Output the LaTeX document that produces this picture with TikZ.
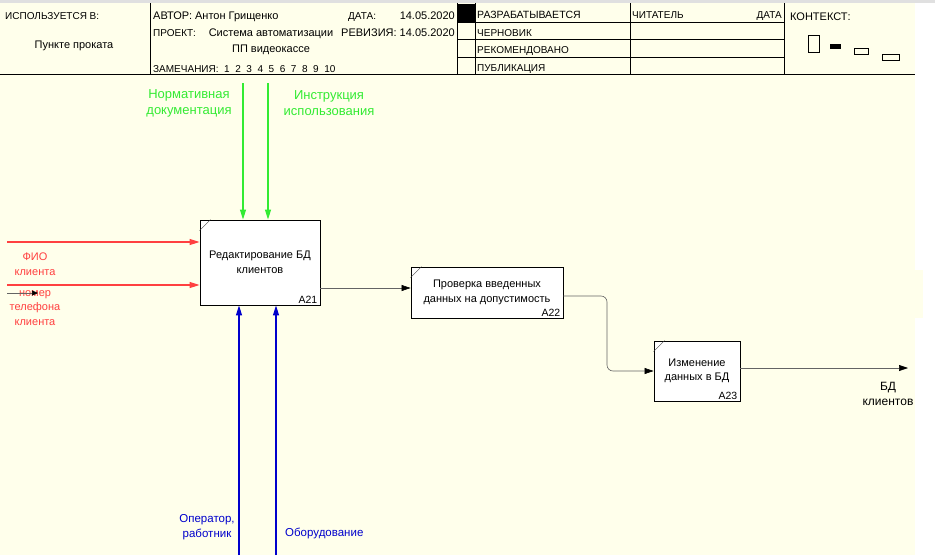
\documentclass[tikz,border=0pt]{standalone}
\usepackage{fontspec}
\setmainfont{Liberation Sans}
\usetikzlibrary{arrows.meta,calc}
\definecolor{paper}{RGB}{255,255,235}
\definecolor{inred}{RGB}{255,64,64}
\definecolor{ctlgreen}{RGB}{51,235,51}
\definecolor{mechblue}{RGB}{0,0,204}
\definecolor{flowgray}{RGB}{100,100,100}
\newcommand{\boxtick}[1]{\draw[black!75] (#1.north west) ++(0,11) -- ++(11,-11);}

\begin{document}
\begin{tikzpicture}[x=1pt, y=-1pt,
  every node/.style={inner sep=0pt, font=\fontsize{11}{14.5}\selectfont},
  hdr/.style={anchor=base west, font=\fontsize{10}{12}\selectfont},
  hdrl/.style={hdr, font=\fontsize{11}{12}\selectfont},
  func/.style={draw, fill=white, line width=0.9pt, align=center},
  num/.style={anchor=south east, font=\fontsize{10.5}{12}\selectfont},
  inp/.style={draw=inred, line width=1.3pt, -{Triangle[length=10pt,width=6pt]}},
  ctl/.style={draw=ctlgreen, line width=1.3pt, -{Triangle[length=10pt,width=6pt]}},
  mech/.style={draw=mechblue, line width=1.3pt, -{Triangle[length=10pt,width=6pt]}},
  flow/.style={draw=flowgray, line width=0.6pt, -{Triangle[length=9pt,width=6pt,color=black]}}]
\useasboundingbox (0,0) rectangle (935,555);
% Page
\fill[black!12] (0,0) rectangle (935,2.5);
\fill[paper] (0,2.5) rectangle (915,555);
\fill[paper] (915,270) rectangle (923,318);

% Header frame
\draw[line width=0.8pt] (0,74) -- (915,74);
\draw[line width=0.8pt] (150,3) -- (150,74);
\draw[line width=0.8pt] (457,3) -- (457,74);
\draw[line width=0.8pt] (475,3) -- (475,74);
\draw[line width=0.8pt] (630,3) -- (630,74);
\draw[line width=0.8pt] (784,3) -- (784,74);
\foreach \y in {22,39,57}
  \draw[line width=0.8pt] (457,\y) -- (784,\y);
\fill (457,4) rectangle (475,22);

% Header texts
\node[hdr] (used) at (5,19) {ИСПОЛЬЗУЕТСЯ В:};
\node[hdrl, anchor=base] (usedin) at (74,48) {Пункте проката};
\node[hdrl] (author) at (153,19) {АВТОР: Антон Грищенко};
\node[hdr] (date) at (348,19) {ДАТА:};
\node[hdrl, anchor=base east] (dateval) at (455,19) {14.05.2020};
\node[hdr] (project) at (153,36) {ПРОЕКТ:};
\node[hdrl, anchor=base] (proj1) at (271,36) {Система автоматизации};
\node[hdrl, anchor=base] (proj2) at (271,52) {ПП видеокассе};
\node[hdrl, anchor=base east] (rev) at (455,36) {РЕВИЗИЯ: 14.05.2020};
\node[hdr] (notes) at (153,72) {ЗАМЕЧАНИЯ:~~1~~2~~3~~4~~5~~6~~7~~8~~9~~10};
\node[hdr, font=\fontsize{10.5}{12}\selectfont] (st1) at (477,18) {РАЗРАБАТЫВАЕТСЯ};
\node[hdr] (st2) at (477,36) {ЧЕРНОВИК};
\node[hdr] (st3) at (477,53) {РЕКОМЕНДОВАНО};
\node[hdr] (st4) at (477,71) {ПУБЛИКАЦИЯ};
\node[hdr] (reader) at (632,18) {ЧИТАТЕЛЬ};
\node[hdr, anchor=base east] (rdate) at (782,18) {ДАТА};
\node[hdr, font=\fontsize{11}{12}\selectfont] (ctx) at (790,20) {КОНТЕКСТ:};

% Context icons
\draw (808.5,35) rectangle (819,52);
\fill (830,43.5) rectangle (840.5,49);
\draw (854.5,48.5) rectangle (868,54);
\draw (882.5,54.5) rectangle (899,60);

% Activity boxes
\node[func, minimum width=120pt, minimum height=85pt] (A21) at (260,262.5) {Редактирование БД\\клиентов};
\node[func, minimum width=152pt, minimum height=51pt] (A22) at (487,292.5) {Проверка введенных\\данных на допустимость};
\node[func, minimum width=86pt, minimum height=60pt] (A23) at (697,371) {Изменение\\данных в БД};
\node[num] at ([shift={(-3pt,2pt)}]A21.south east) {A21};
\node[num] at ([shift={(-3pt,2pt)}]A22.south east) {A22};
\node[num] at ([shift={(-3pt,2pt)}]A23.south east) {A23};
\boxtick{A21}
\boxtick{A22}
\boxtick{A23}

% Inputs
\coordinate (fio) at (7,242);
\coordinate (phone) at (7,285);
\draw[inp] (fio) -- (fio -| A21.west);
\draw[inp] (phone) -- (phone -| A21.west);
\node[text=inred, align=center] (fiotxt) at (35,264) {ФИО\\клиента};
\node[text=inred, align=center] (phonetxt) at (35,308) {номер\\телефона\\клиента};
\coordinate (stray) at (7,293);
\draw[flowgray, line width=0.6pt, -{Triangle[length=6pt,width=5pt,color=black]}] (stray) -- ++(31,0);

% Controls
\coordinate (norm) at (243,83);
\coordinate (instr) at (268,83);
\draw[ctl] (norm) -- (norm |- A21.north);
\draw[ctl] (instr) -- (instr |- A21.north);
\node[text=ctlgreen, align=center, font=\fontsize{13}{16}\selectfont] (normtxt) at (189,103) {Нормативная\\документация};
\node[text=ctlgreen, align=center, font=\fontsize{13}{16}\selectfont] (instrtxt) at (329,103) {Инструкция\\использования};

% Mechanisms
\coordinate (oper) at (239,555);
\coordinate (equip) at (276,555);
\draw[mech] (oper) -- (oper |- A21.south);
\draw[mech] (equip) -- (equip |- A21.south);
\node[text=mechblue, align=center, font=\fontsize{11.5}{15}\selectfont] (opertxt) at (207,527.5) {Оператор,\\работник};
\node[text=mechblue, anchor=west, font=\fontsize{11.5}{15}\selectfont] (equiptxt) at (285,533) {Оборудование};

% Flows
\coordinate (bend) at (607,0);
\coordinate (out) at (908,368);
\draw[flow] ([yshift=-25.5pt]A21.east) -- ([yshift=4.5pt]A22.west);
\draw[flow, rounded corners=6pt] ([yshift=-3.5pt]A22.east) -- ([yshift=-3.5pt]A22.east -| bend) -- (bend |- A23.west) -- (A23.west);
\draw[flow] (out -| A23.east) -- (out);
\node[align=center, font=\fontsize{12}{15}\selectfont] (outtxt) at (888,393.5) {БД\\клиентов};
\end{tikzpicture}
\end{document}
